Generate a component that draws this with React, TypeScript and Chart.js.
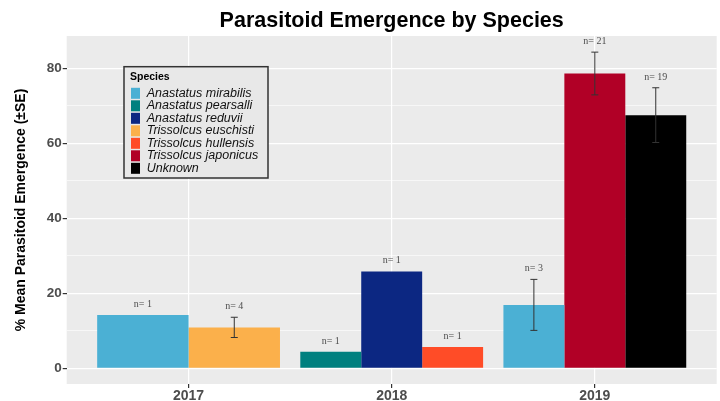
import React, { useEffect, useRef } from 'react';
import { Chart, registerables } from 'chart.js';
Chart.register(...registerables);

// ---- data ----
const categories = ['2017', '2018', '2019'];
const speciesNames = [
  'Anastatus mirabilis',
  'Anastatus pearsalli',
  'Anastatus reduvii',
  'Trissolcus euschisti',
  'Trissolcus hullensis',
  'Trissolcus japonicus',
  'Unknown',
];
const mirabilisMean = [14.2, null, 16.9];
const pearsalliMean = [null, 4.4, null];
const reduviiMean = [null, 25.8, null];
const euschistiMean = [10.9, null, null];
const hullensisMean = [null, 5.7, null];
const japonicusMean = [null, null, 78.6];
const unknownMean = [null, null, 67.5];

const mirabilisSE = [0, null, 6.8];
const pearsalliSE = [null, 0, null];
const reduviiSE = [null, 0, null];
const euschistiSE = [2.7, null, null];
const hullensisSE = [null, 0, null];
const japonicusSE = [null, null, 5.7];
const unknownSE = [null, null, 7.3];

const mirabilisN = [1, null, 3];
const pearsalliN = [null, 1, null];
const reduviiN = [null, 1, null];
const euschistiN = [4, null, null];
const hullensisN = [null, 1, null];
const japonicusN = [null, null, 21];
const unknownN = [null, null, 19];

const yMajorTicks = [0, 20, 40, 60, 80];

const allMeans = [mirabilisMean, pearsalliMean, reduviiMean, euschistiMean, hullensisMean, japonicusMean, unknownMean];
const allSE = [mirabilisSE, pearsalliSE, reduviiSE, euschistiSE, hullensisSE, japonicusSE, unknownSE];
const allN = [mirabilisN, pearsalliN, reduviiN, euschistiN, hullensisN, japonicusN, unknownN];

// ---- styles ----
const speciesColors = ['#4BB0D4', '#00807F', '#0C2782', '#FBB04B', '#FF4C27', '#B10026', '#000000'];
const SANS = '"Liberation Sans", Arial, sans-serif';

const decorPlugin = {
  id: 'decor',
  beforeDraw(chart: any) {
    const { ctx, chartArea: ca } = chart;
    ctx.save();
    ctx.fillStyle = '#FFFFFF';
    ctx.fillRect(0, 0, chart.width, chart.height);
    ctx.fillStyle = '#EBEBEB';
    ctx.fillRect(ca.left, ca.top, ca.right - ca.left, ca.bottom - ca.top);
    ctx.restore();
  },
  afterDatasetsDraw(chart: any) {
    const { ctx } = chart;
    const yScale = chart.scales.y;
    ctx.save();
    chart.data.datasets.forEach((ds: any, i: number) => {
      const meta = chart.getDatasetMeta(i);
      const means = allMeans[i];
      const ses = allSE[i];
      const ns = allN[i];
      means.forEach((v: number | null, j: number) => {
        if (v === null || v === undefined) return;
        const bar = meta.data[j];
        if (!bar) return;
        const x = bar.x;
        const se = ses[j] || 0;
        if (se > 0) {
          const yt = yScale.getPixelForValue(v + se);
          const yb = yScale.getPixelForValue(v - se);
          ctx.strokeStyle = '#333333';
          ctx.lineWidth = 1;
          ctx.beginPath();
          ctx.moveTo(x, yt);
          ctx.lineTo(x, yb);
          ctx.moveTo(x - 3.5, yt);
          ctx.lineTo(x + 3.5, yt);
          ctx.moveTo(x - 3.5, yb);
          ctx.lineTo(x + 3.5, yb);
          ctx.stroke();
        }
        const n = ns[j];
        if (n !== null && n !== undefined) {
          const yl = yScale.getPixelForValue(v + se + 2.9);
          ctx.fillStyle = '#4D4D4D';
          ctx.font = '10px "Liberation Serif", serif';
          ctx.textAlign = 'center';
          ctx.textBaseline = 'middle';
          ctx.fillText('n= ' + n, x, yl);
        }
      });
    });
    ctx.restore();
  },
  afterDraw(chart: any) {
    const { ctx, chartArea: ca } = chart;
    ctx.save();
    // title
    ctx.fillStyle = '#000000';
    ctx.font = 'bold 21.5px ' + SANS;
    ctx.textAlign = 'center';
    ctx.textBaseline = 'alphabetic';
    ctx.fillText('Parasitoid Emergence by Species', (ca.left + ca.right) / 2, 27);
    // y title
    ctx.save();
    ctx.translate(25, (ca.top + ca.bottom) / 2);
    ctx.rotate(-Math.PI / 2);
    ctx.font = 'bold 14px ' + SANS;
    ctx.fillText('% Mean Parasitoid Emergence (\u00B1SE)', 0, 0);
    ctx.restore();
    // legend
    const lx = ca.left + 57.3;
    const ly = ca.top + 30.7;
    const lw = 144;
    const lh = 111.3;
    ctx.fillStyle = '#E8E8E8';
    ctx.fillRect(lx, ly, lw, lh);
    ctx.strokeStyle = '#333333';
    ctx.lineWidth = 1.5;
    ctx.strokeRect(lx, ly, lw, lh);
    ctx.fillStyle = '#000000';
    ctx.font = 'bold 10.5px ' + SANS;
    ctx.textAlign = 'left';
    ctx.textBaseline = 'middle';
    ctx.fillText('Species', lx + 6, ly + 10);
    speciesNames.forEach((name, i) => {
      const cy = ly + 26.6 + i * 12.5;
      ctx.fillStyle = speciesColors[i];
      ctx.fillRect(lx + 7, cy - 5.5, 9, 11);
      ctx.fillStyle = '#111111';
      ctx.font = 'italic 12.5px ' + SANS;
      ctx.fillText(name, lx + 22.7, cy);
    });
    ctx.restore();
  },
};

export default function App() {
  const ref = useRef<HTMLCanvasElement>(null);
  useEffect(() => {
    if (!ref.current) return;
    const datasets = speciesNames.map((name, i) => ({
      label: name,
      data: allMeans[i].map((v, j) => ({ x: j + 1, y: v })),
      backgroundColor: speciesColors[i],
      borderWidth: 0,
      skipNull: true,
      categoryPercentage: 0.9,
      barPercentage: 1.0,
    }));
    const chart = new Chart(ref.current, {
      type: 'bar',
      data: { datasets } as any,
      plugins: [decorPlugin],
      options: {
        animation: false,
        responsive: true,
        maintainAspectRatio: false,
        layout: { padding: { top: 36, right: 3.3, left: 0, bottom: 0 } },
        plugins: { legend: { display: false }, title: { display: false }, tooltip: { enabled: false } },
        scales: {
          x: {
            type: 'linear',
            min: 0.4,
            max: 3.6,
            offset: false,
            afterBuildTicks: (scale: any) => {
              scale.ticks = categories.map((_, i) => ({ value: i + 1 }));
            },
            afterFit: (scale: any) => {
              scale.height = 17;
            },
            border: { display: false },
            grid: { offset: false, color: '#FFFFFF', lineWidth: 1.2, tickColor: '#333333', tickLength: 4 },
            ticks: {
              autoSkip: false,
              maxRotation: 0,
              padding: 0,
              color: '#4D4D4D',
              font: { family: SANS, size: 14, weight: 'bold' },
              callback: (v: any) => categories[Math.round(v) - 1] ?? '',
            },
          },
          y: {
            type: 'linear',
            min: -4.2,
            max: 88.6,
            afterFit: (scale: any) => {
              scale.width = 66.7;
            },
            border: { display: false },
            grid: {
              color: '#FFFFFF',
              lineWidth: (c: any) => (yMajorTicks.includes(c.tick?.value) ? 1.2 : 0.6),
              tickColor: (c: any) => (yMajorTicks.includes(c.tick?.value) ? '#333333' : 'rgba(0,0,0,0)'),
              tickLength: 4,
            },
            ticks: {
              stepSize: 10,
              includeBounds: false,
              autoSkip: false,
              padding: 1,
              color: '#4D4D4D',
              font: { family: SANS, size: 13.5, weight: 'bold' },
              callback: (v: any) => (yMajorTicks.includes(v) ? String(v) : ''),
            },
          },
        },
      } as any,
    });
    return () => chart.destroy();
  }, []);
  return (
    <div style={{ position: 'fixed', left: 0, top: 0, width: 720, height: 401, background: '#fff' }}>
      <canvas ref={ref} />
    </div>
  );
}
